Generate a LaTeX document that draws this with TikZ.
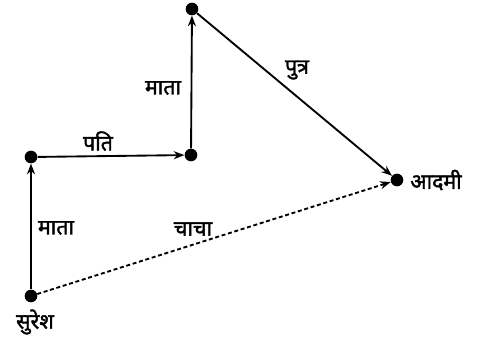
\documentclass[tikz,border=0pt]{standalone}
\usepackage{fontspec}
\newfontfamily\hindi[Script=Devanagari,FakeBold=1.8]{Noto Sans}
\usetikzlibrary{arrows.meta}

\begin{document}
\begin{tikzpicture}[x=0.75pt, y=-0.75pt, >={Stealth[length=8pt,width=6pt]},
  dot/.style={circle, fill, inner sep=0pt, minimum size=9.5pt},
  lbl/.style={font=\hindi\fontsize{16}{18}\selectfont, inner sep=1pt},
  rel/.style={->, line width=1.4pt}]
\useasboundingbox (0,0) rectangle (478,344);
\node[dot] (suresh) at (31,296) {};
\node[dot] (mata1)  at (31,157) {};
\node[dot] (pati)   at (191,155) {};
\node[dot] (mata2)  at (192,9) {};
\node[dot] (aadmi)  at (397,180) {};
\node[lbl] (tsuresh) at (35,322) {सुरेश};
\node[lbl] (taadmi)  at (436,180) {आदमी};
\node[lbl] (tmata1)  at (56,228) {माता};
\node[lbl] (tpati)   at (98,141) {पति};
\node[lbl] (tmata2)  at (163,88) {माता};
\node[lbl] (tputra)  at (297,70) {पुत्र};
\node[lbl] (tchacha) at (193,229) {चाचा};
\draw[rel] (suresh) -- (mata1); \draw[rel] (mata1) -- (pati);
\draw[rel] (pati) -- (mata2); \draw[rel] (mata2) -- (aadmi);
\draw[rel, dash pattern=on 3pt off 2pt] (suresh) -- (aadmi);
\end{tikzpicture}
\end{document}
